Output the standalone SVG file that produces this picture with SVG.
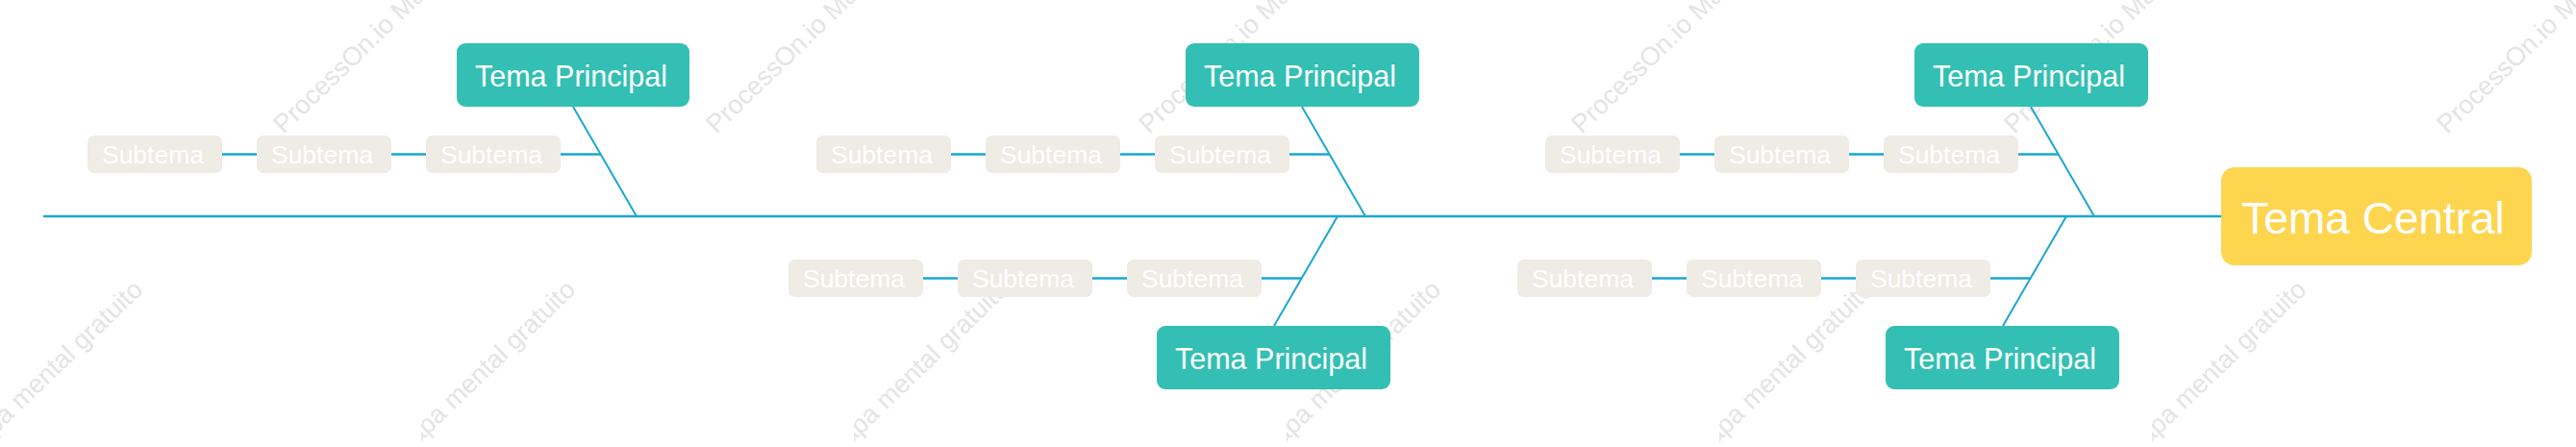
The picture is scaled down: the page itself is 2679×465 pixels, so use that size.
<svg xmlns="http://www.w3.org/2000/svg" width="2679" height="465" viewBox="0 0 2679 465">
<style>
.wm{font-family:"Liberation Sans",Arial,sans-serif;font-size:27px;fill:#e4e4e4}
.ln{stroke:#1ba7cf;fill:none}
.h{stroke-width:2.5}
.d{stroke-width:2}
.sub rect{fill:#efebe5}
.sub text{font-family:"Liberation Sans",Arial,sans-serif;font-size:26.5px;fill:#ffffff;text-anchor:middle}
.tp rect{fill:#33bfb3}
.tp text{font-family:"Liberation Sans",Arial,sans-serif;font-size:30.5px;fill:#ffffff;text-anchor:middle}
.ct rect{fill:#fdd54f}
.ct text{font-family:"Liberation Sans",Arial,sans-serif;font-size:46px;fill:#ffffff;text-anchor:middle}
</style>
<defs>
<clipPath id="wc" clipPathUnits="userSpaceOnUse"><rect x="-12" y="0" width="450" height="465"/></clipPath>
<text id="wmb" class="wm" x="150" y="303" text-anchor="end" transform="rotate(-44 150 303)">ProcessOn.io Mapa mental gratuito</text>
<text id="wmt" class="wm" x="295" y="140" transform="rotate(-44 295 140)">ProcessOn.io Mapa mental gratuito</text>
</defs>
<rect width="2679" height="465" fill="#ffffff"/>
<g id="watermarks">
<use href="#wmt"/>
<use href="#wmt" transform="translate(450 0)"/>
<use href="#wmt" transform="translate(900 0)"/>
<use href="#wmt" transform="translate(1350 0)"/>
<use href="#wmt" transform="translate(1800 0)"/>
<use href="#wmt" transform="translate(2250 0)"/>
<g clip-path="url(#wc)"><use href="#wmb"/></g>
<g transform="translate(450 0)"><g clip-path="url(#wc)"><use href="#wmb"/></g></g>
<g transform="translate(900 0)"><g clip-path="url(#wc)"><use href="#wmb"/></g></g>
<g transform="translate(1350 0)"><g clip-path="url(#wc)"><use href="#wmb"/></g></g>
<g transform="translate(1800 0)"><g clip-path="url(#wc)"><use href="#wmb"/></g></g>
<g transform="translate(2250 0)"><g clip-path="url(#wc)"><use href="#wmb"/></g></g>
</g>
<g id="connectors">
<line class="ln h" x1="45" y1="225" x2="2312" y2="225"/>
<line class="ln d" x1="596" y1="111" x2="662" y2="225"/>
<line class="ln d" x1="1354" y1="111" x2="1420" y2="225"/>
<line class="ln d" x1="2112" y1="111" x2="2178" y2="225"/>
<line class="ln d" x1="1391" y1="225" x2="1325" y2="339"/>
<line class="ln d" x1="2149" y1="225" x2="2083" y2="339"/>
<line class="ln h" x1="231" y1="160.5" x2="267" y2="160.5"/>
<line class="ln h" x1="407" y1="160.5" x2="443" y2="160.5"/>
<line class="ln h" x1="583" y1="160.5" x2="624.5" y2="160.5"/>
<line class="ln h" x1="989" y1="160.5" x2="1025" y2="160.5"/>
<line class="ln h" x1="1165" y1="160.5" x2="1201" y2="160.5"/>
<line class="ln h" x1="1341" y1="160.5" x2="1382.5" y2="160.5"/>
<line class="ln h" x1="1747" y1="160.5" x2="1783" y2="160.5"/>
<line class="ln h" x1="1923" y1="160.5" x2="1959" y2="160.5"/>
<line class="ln h" x1="2099" y1="160.5" x2="2140.5" y2="160.5"/>
<line class="ln h" x1="960" y1="289.5" x2="996" y2="289.5"/>
<line class="ln h" x1="1136" y1="289.5" x2="1172" y2="289.5"/>
<line class="ln h" x1="1312" y1="289.5" x2="1354" y2="289.5"/>
<line class="ln h" x1="1718" y1="289.5" x2="1754" y2="289.5"/>
<line class="ln h" x1="1894" y1="289.5" x2="1930" y2="289.5"/>
<line class="ln h" x1="2070" y1="289.5" x2="2112" y2="289.5"/>
</g>
<g id="central" class="ct"><rect x="2310" y="174" width="323" height="102" rx="14"/><text x="2468" y="243">Tema Central</text></g>
<g id="tp1" class="tp"><rect x="475" y="45" width="242" height="66" rx="9"/><text x="594" y="90">Tema Principal</text></g>
<g id="tp2" class="tp"><rect x="1233" y="45" width="243" height="66" rx="9"/><text x="1352" y="90">Tema Principal</text></g>
<g id="tp3" class="tp"><rect x="1991" y="45" width="243" height="66" rx="9"/><text x="2110" y="90">Tema Principal</text></g>
<g id="tp4" class="tp"><rect x="1203" y="339" width="243" height="66" rx="9"/><text x="1322" y="384">Tema Principal</text></g>
<g id="tp5" class="tp"><rect x="1961" y="339" width="243" height="66" rx="9"/><text x="2080" y="384">Tema Principal</text></g>
<g id="s1a" class="sub"><rect x="91" y="141" width="140" height="39" rx="7"/><text x="159" y="170">Subtema</text></g>
<g id="s1b" class="sub"><rect x="267" y="141" width="140" height="39" rx="7"/><text x="335" y="170">Subtema</text></g>
<g id="s1c" class="sub"><rect x="443" y="141" width="140" height="39" rx="7"/><text x="511" y="170">Subtema</text></g>
<g id="s2a" class="sub"><rect x="849" y="141" width="140" height="39" rx="7"/><text x="917" y="170">Subtema</text></g>
<g id="s2b" class="sub"><rect x="1025" y="141" width="140" height="39" rx="7"/><text x="1093" y="170">Subtema</text></g>
<g id="s2c" class="sub"><rect x="1201" y="141" width="140" height="39" rx="7"/><text x="1269" y="170">Subtema</text></g>
<g id="s3a" class="sub"><rect x="1607" y="141" width="140" height="39" rx="7"/><text x="1675" y="170">Subtema</text></g>
<g id="s3b" class="sub"><rect x="1783" y="141" width="140" height="39" rx="7"/><text x="1851" y="170">Subtema</text></g>
<g id="s3c" class="sub"><rect x="1959" y="141" width="140" height="39" rx="7"/><text x="2027" y="170">Subtema</text></g>
<g id="s4a" class="sub"><rect x="820" y="270" width="140" height="39" rx="7"/><text x="888" y="299">Subtema</text></g>
<g id="s4b" class="sub"><rect x="996" y="270" width="140" height="39" rx="7"/><text x="1064" y="299">Subtema</text></g>
<g id="s4c" class="sub"><rect x="1172" y="270" width="140" height="39" rx="7"/><text x="1240" y="299">Subtema</text></g>
<g id="s5a" class="sub"><rect x="1578" y="270" width="140" height="39" rx="7"/><text x="1646" y="299">Subtema</text></g>
<g id="s5b" class="sub"><rect x="1754" y="270" width="140" height="39" rx="7"/><text x="1822" y="299">Subtema</text></g>
<g id="s5c" class="sub"><rect x="1930" y="270" width="140" height="39" rx="7"/><text x="1998" y="299">Subtema</text></g>
</svg>
